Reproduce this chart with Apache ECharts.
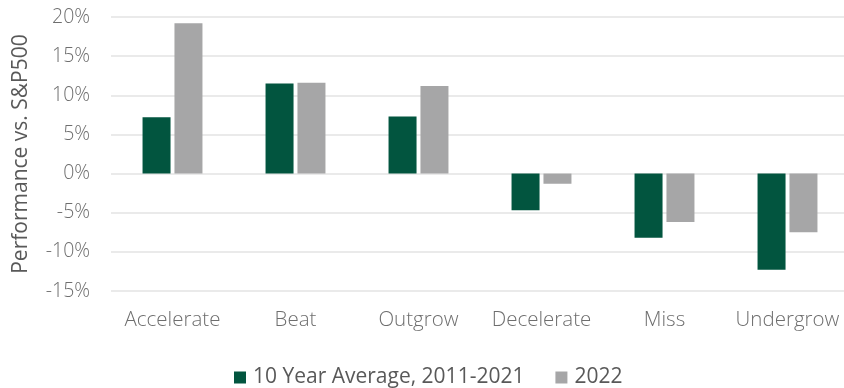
<!DOCTYPE html>
<html>
<head>
<meta charset="utf-8">
<script src="https://cdn.jsdelivr.net/npm/echarts@6/dist/echarts.min.js"></script>
<style>
  html, body { margin: 0; padding: 0; background: #fff; }
  #chart { width: 844px; height: 388px; }
</style>
</head>
<body>
<div id="chart"></div>
<script>
// Growth categories and their relative performance vs. the S&P 500 (%)
const categories = ['Accelerate', 'Beat', 'Outgrow', 'Decelerate', 'Miss', 'Undergrow'];
const avgSeriesName = '10 Year Average, 2011-2021';
const avgValues = [7.2, 11.5, 7.3, -4.7, -8.2, -12.3];
const yearSeriesName = '2022';
const yearValues = [19.2, 11.6, 11.2, -1.3, -6.2, -7.5];

const textColor = '#595959';
const tickColor = '#6e6e6e';
const fontFamily = '"Open Sans", "Noto Sans", sans-serif';

const chart = echarts.init(document.getElementById('chart'));
chart.setOption({
  animation: false,
  textStyle: { fontFamily: fontFamily, color: textColor },
  grid: { left: 111, top: 17, width: 738, height: 274, containLabel: false, outerBoundsMode: 'none' },
  legend: {
    bottom: 0,
    left: 234,
    padding: 0,
    itemWidth: 12,
    itemHeight: 12,
    itemGap: 31,
    icon: 'rect',
    textStyle: { fontSize: 21, color: textColor, fontFamily: fontFamily, padding: [0, 0, 0, 2] },
    data: [avgSeriesName, yearSeriesName]
  },
  xAxis: {
    type: 'category',
    data: categories,
    axisLine: { show: false },
    axisTick: { show: false },
    axisLabel: { interval: 0, fontSize: 20.5, fontWeight: 300, color: tickColor, margin: 19, fontFamily: fontFamily }
  },
  yAxis: {
    type: 'value',
    min: -15,
    max: 20,
    interval: 5,
    name: 'Performance vs. S&P500',
    nameLocation: 'middle',
    nameRotate: 90,
    nameGap: 79,
    nameTextStyle: { fontSize: 21, color: textColor, fontFamily: fontFamily },
    axisLine: { show: false },
    axisTick: { show: false },
    splitLine: { lineStyle: { color: '#e3e3e3', width: 1.5 } },
    axisLabel: {
      fontSize: 19.5,
      fontWeight: 300,
      color: tickColor,
      margin: 21,
      fontFamily: fontFamily,
      formatter: v => v + '%'
    }
  },
  series: [
    {
      name: avgSeriesName,
      type: 'bar',
      data: avgValues,
      barWidth: 28,
      barGap: '14%',
      itemStyle: { color: '#02553f' }
    },
    {
      name: yearSeriesName,
      type: 'bar',
      data: yearValues,
      barWidth: 28,
      itemStyle: { color: '#a6a6a7' }
    }
  ]
});
</script>
</body>
</html>
